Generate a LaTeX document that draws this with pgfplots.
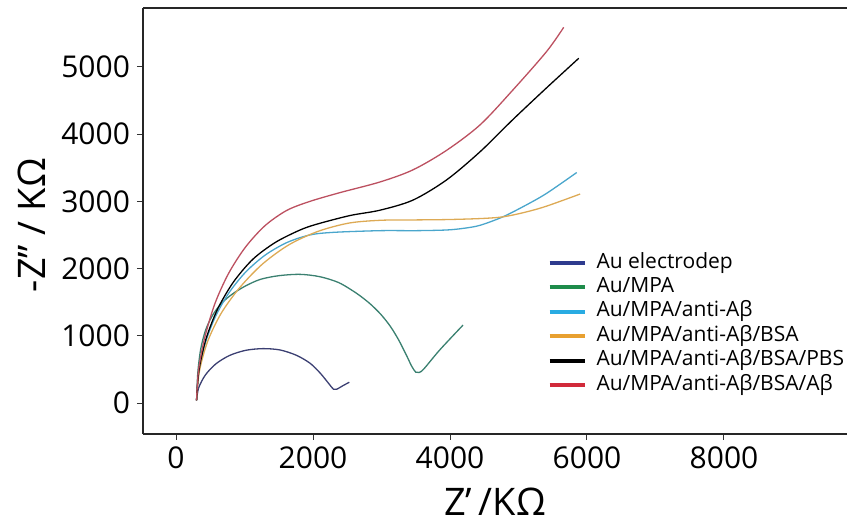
\documentclass[border=0pt]{standalone}
\usepackage{fontspec}
\setmainfont{Open Sans}
\usepackage{pgfplots}
\pgfplotsset{compat=1.18}
% legend colours
\definecolor{lnavy}{HTML}{2E3B8E}
\definecolor{lgreen}{HTML}{1E8C4B}
\definecolor{lcyan}{HTML}{29ABE2}
\definecolor{lorange}{HTML}{E8A030}
\definecolor{lred}{HTML}{D12A3A}
% curve colours (thin lines, a bit duller)
\definecolor{cnavy}{HTML}{3B3F72}
\definecolor{cgreen}{HTML}{3A8070}
\definecolor{ccyan}{HTML}{4AA6CC}
\definecolor{corange}{HTML}{DDAA55}
\definecolor{cred}{HTML}{BC5060}
\begin{document}
\begin{tikzpicture}
\useasboundingbox (-71.5pt,-47pt) rectangle (352pt,217pt);
\begin{axis}[
  scale only axis, width=352pt, height=213pt,
  xmin=-482, xmax=9796, ymin=-460, ymax=5878,
  axis x line*=box, axis y line*=left,
  xtick={0,2000,4000,6000,8000}, ytick={0,1000,2000,3000,4000,5000},
  xtick pos=left, ytick pos=left,
  tick align=outside, major tick length=3pt,
  tick style={black!80, line width=0.5pt},
  axis line style={line width=0.6pt, black!85},
  ticklabel style={font=\fontsize{15}{18}\selectfont},
  /pgf/number format/assume math mode=true,
  /pgf/number format/1000 sep={},
  xlabel={Z’\,/KΩ}, ylabel={-Z” / KΩ},
  label style={font=\fontsize{19}{22}\selectfont},
  x label style={at={(axis description cs:0.5,-0.16)}, anchor=center},
  y label style={at={(axis description cs:-0.158,0.49)}, anchor=center},
  legend style={draw=none, fill=none, inner sep=0pt,
    at={(rel axis cs:0.574,0.426)}, anchor=north west,
    font=\fontsize{10.5}{12}\selectfont,
    nodes={inner sep=0pt, text height=7.6pt, text depth=2.4pt},
    row sep=2.2pt,
    /tikz/every odd column/.style={column sep=5pt}},
  legend cell align=left,
  legend image code/.code={\draw[line width=2pt] (0pt,0pt) -- (17.5pt,0pt);},
  every axis plot/.append style={line width=0.65pt, smooth},
]
% Au electrodep
\addplot[cnavy, forget plot] coordinates {
(300,40) (330,225) (430,420) (584,585) (785,710) (1019,785) (1270,810) (1520,790)
(1760,710) (1960,590) (2110,440) (2230,290) (2300,205) (2345,205) (2430,255) (2530,310)};
% Au/MPA
\addplot[cgreen, forget plot] coordinates {
(300,40) (318,450) (360,800) (430,1080) (530,1300) (660,1480) (820,1620) (1010,1740)
(1230,1840) (1500,1895) (1810,1915) (2100,1880) (2380,1790) (2640,1630) (2830,1480)
(2990,1320) (3130,1140) (3250,940) (3360,720) (3440,550) (3500,460) (3550,455)
(3620,510) (3850,790) (4190,1160)};
% Au/MPA/anti-Ab
\addplot[ccyan, forget plot] coordinates {
(300,40) (330,441) (421,869) (568,1270) (768,1633) (1014,1946) (1300,2200) (1616,2387)
(1953,2501) (2300,2540) (2980,2565) (3500,2565) (3950,2575) (4200,2600) (4440,2645)
(4770,2770) (5100,2940) (5410,3120) (5850,3430)};
% Au/MPA/anti-Ab/BSA
\addplot[corange, forget plot] coordinates {
(300,40) (341,472) (463,920) (662,1340) (932,1720) (1264,2070) (1650,2356) (2077,2556)
(2531,2679) (3000,2720) (3500,2725) (3950,2730) (4440,2745) (4770,2770) (5100,2840)
(5410,2930) (5900,3110)};
% Au/MPA/anti-Ab/BSA/PBS
\addplot[black, forget plot] coordinates {
(300,40) (335,486) (439,958) (608,1400) (838,1800) (1122,2140) (1450,2390) (1800,2570)
(2050,2660) (2540,2790) (2980,2870) (3460,3020) (3950,3320) (4440,3740) (4920,4220)
(5410,4690) (5880,5130)};
% Au/MPA/anti-Ab/BSA/Ab
\addplot[cred, forget plot] coordinates {
(300,40) (330,500) (421,980) (568,1480) (768,1930) (1014,2320) (1300,2640) (1616,2866)
(1953,3000) (2390,3130) (2980,3290) (3460,3470) (3950,3760) (4440,4140) (4920,4660)
(5410,5230) (5660,5590)};
\addlegendimage{lnavy}
\addlegendentry{Au electrodep}
\addlegendimage{lgreen}
\addlegendentry{Au/MPA}
\addlegendimage{lcyan}
\addlegendentry{Au/MPA/anti-Aβ}
\addlegendimage{lorange}
\addlegendentry{Au/MPA/anti-Aβ/BSA}
\addlegendimage{black}
\addlegendentry{Au/MPA/anti-Aβ/BSA/PBS}
\addlegendimage{lred}
\addlegendentry{Au/MPA/anti-Aβ/BSA/Aβ}
\end{axis}
\end{tikzpicture}
\end{document}
